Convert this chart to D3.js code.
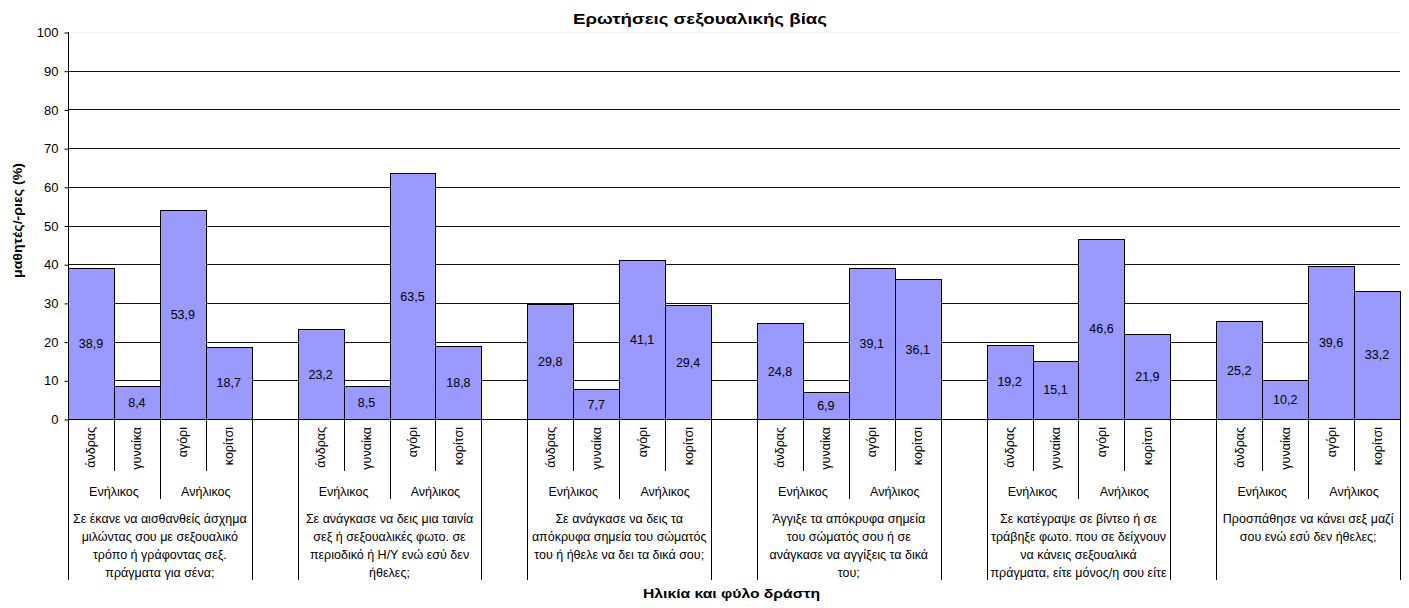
<!DOCTYPE html>
<html><head><meta charset="utf-8">
<script src="https://cdn.jsdelivr.net/npm/d3@7"></script>
<style>body{margin:0;background:#fff}svg{display:block;font-family:"Liberation Sans",Arial,sans-serif}</style>
</head><body><svg id="c" width="1409" height="608"></svg>
<script>
const chartTitle = "Ερωτήσεις σεξουαλικής βίας";
const yTitle = "μαθητές/-ριες (%)";
const xTitle = "Ηλικία και φύλο δράστη";
const questions = [
  ["Σε έκανε να αισθανθείς άσχημα","μιλώντας σου με σεξουαλικό","τρόπο ή γράφοντας σεξ.","πράγματα για σένα;"],
  ["Σε ανάγκασε να δεις μια ταινία","σεξ ή σεξουαλικές φωτο. σε","περιοδικό ή Η/Υ ενώ εσύ δεν","ήθελες;"],
  ["Σε ανάγκασε να δεις τα","απόκρυφα σημεία του σώματός","του ή ήθελε να δει τα δικά σου;"],
  ["Άγγιξε τα απόκρυφα σημεία","του σώματός σου ή σε","ανάγκασε να αγγίξεις τα δικά","του;"],
  ["Σε κατέγραψε σε βίντεο ή σε","τράβηξε φωτο. που σε δείχνουν","να κάνεις σεξουαλικά","πράγματα, είτε μόνος/η σου είτε"],
  ["Προσπάθησε να κάνει σεξ μαζί","σου ενώ εσύ δεν ήθελες;"]
];
const ageGroups = ["Ενήλικος","Ανήλικος"];
const perpetrators = ["άνδρας","γυναίκα","αγόρι","κορίτσι"];
const values = [
  [38.9, 8.4, 53.9, 18.7],
  [23.2, 8.5, 63.5, 18.8],
  [29.8, 7.7, 41.1, 29.4],
  [24.8, 6.9, 39.1, 36.1],
  [19.2, 15.1, 46.6, 21.9],
  [25.2, 10.2, 39.6, 33.2]
];
const yTicks = [0,10,20,30,40,50,60,70,80,90,100];

const svg = d3.select("#c");
const L = 68, R = 1400, T = 32, B = 419;

// slots: 4 bars per question with one blank slot between questions
const slots = [];
questions.forEach((q, qi) => {
  perpetrators.forEach((p, pi) => slots.push(`q${qi}p${pi}`));
  if (qi < questions.length - 1) slots.push(`gap${qi}`);
});
const x = d3.scaleBand().domain(slots).range([L, R]).padding(0);
const y = d3.scaleLinear().domain([0, 100]).range([B, T]);
const bw = x.bandwidth();

// gridlines
svg.append("g").selectAll("line").data(yTicks.filter(t => t > 0)).join("line")
  .attr("x1", L).attr("x2", R)
  .attr("y1", d => Math.round(y(d)) + 0.5).attr("y2", d => Math.round(y(d)) + 0.5)
  .attr("stroke", d => d === 100 ? "#f0f0f0" : "#111").attr("stroke-width", 1);

// bars
const barData = [];
values.forEach((row, qi) => row.forEach((v, pi) => barData.push({qi, pi, v, key: `q${qi}p${pi}`})));
svg.append("g").selectAll("rect").data(barData).join("rect")
  .attr("x", d => Math.round(x(d.key)) + 0.5)
  .attr("y", d => Math.round(y(d.v)) + 0.5)
  .attr("width", d => Math.round(x(d.key) + bw) - Math.round(x(d.key)))
  .attr("height", d => Math.round(y(0)) - Math.round(y(d.v)))
  .attr("fill", "#9999FF").attr("stroke", "#000").attr("stroke-width", 1);

// value labels
svg.append("g").selectAll("text").data(barData).join("text")
  .attr("x", d => x(d.key) + bw / 2)
  .attr("y", d => (y(d.v) + y(0)) / 2 + 4.5)
  .attr("text-anchor", "middle").attr("font-size", 12.5).attr("fill", "#000")
  .text(d => d.v.toFixed(1).replace(".", ","));

// y axis
const yAxis = d3.axisLeft(y).tickValues(yTicks).tickSize(4).tickPadding(6).tickFormat(d3.format("d"));
const ga = svg.append("g").attr("transform", `translate(${L + 0.5},0.5)`).call(yAxis);
ga.select(".domain").remove();
ga.selectAll(".tick text").attr("font-size", 13).attr("font-family", "Liberation Sans, Arial, sans-serif").attr("fill", "#000");
ga.selectAll(".tick line").attr("stroke", "#000");
svg.append("line").attr("x1", L + 0.5).attr("x2", L + 0.5).attr("y1", T).attr("y2", 580).attr("stroke", "#000");
// x axis baseline
svg.append("line").attr("x1", L).attr("x2", R).attr("y1", Math.round(B) + 0.5).attr("y2", Math.round(B) + 0.5).attr("stroke", "#000");

// category separators
const sep = [];
questions.forEach((q, qi) => {
  const x0 = x(`q${qi}p0`), x3 = x(`q${qi}p3`) + bw;
  sep.push({xp: x0, y2: 580});
  sep.push({xp: x3, y2: 580});
  sep.push({xp: x(`q${qi}p1`), y2: 471});
  sep.push({xp: x(`q${qi}p3`), y2: 471});
  sep.push({xp: x(`q${qi}p2`), y2: 499});
});
svg.append("g").selectAll("line").data(sep).join("line")
  .attr("x1", d => Math.round(d.xp) + 0.5).attr("x2", d => Math.round(d.xp) + 0.5)
  .attr("y1", B).attr("y2", d => d.y2).attr("stroke", "#000");

// level 1 labels (rotated)
const lvl1 = [];
questions.forEach((q, qi) => perpetrators.forEach((p, pi) => lvl1.push({key: `q${qi}p${pi}`, p})));
svg.append("g").selectAll("text").data(lvl1).join("text")
  .attr("transform", d => `translate(${x(d.key) + bw / 2 + 4.5},${427}) rotate(-90)`)
  .attr("text-anchor", "end").attr("font-size", 12.5).text(d => d.p);

// level 2 labels
const lvl2 = [];
questions.forEach((q, qi) => ageGroups.forEach((a, ai) => lvl2.push({cx: x(`q${qi}p${ai * 2}`) + bw, a})));
svg.append("g").selectAll("text").data(lvl2).join("text")
  .attr("x", d => d.cx).attr("y", 495.5).attr("text-anchor", "middle").attr("font-size", 12.5).text(d => d.a);

// level 3 labels
const g3 = svg.append("g");
questions.forEach((lines, qi) => {
  const cx = (x(`q${qi}p0`) + x(`q${qi}p3`) + bw) / 2;
  lines.forEach((ln, li) => {
    g3.append("text").attr("x", cx).attr("y", 522.5 + li * 18).attr("text-anchor", "middle")
      .attr("font-size", 12.5).text(ln);
  });
});

// titles
svg.append("text").attr("x", 700).attr("y", 23.5).attr("text-anchor", "middle")
  .attr("font-size", 15).attr("font-weight", "bold")
  .attr("textLength", 254).attr("lengthAdjust", "spacingAndGlyphs").text(chartTitle);
svg.append("text").attr("x", 731.5).attr("y", 597.5).attr("text-anchor", "middle")
  .attr("font-size", 13.5).attr("font-weight", "bold")
  .attr("textLength", 177).attr("lengthAdjust", "spacingAndGlyphs").text(xTitle);
svg.append("text").attr("transform", `translate(22,220.5) rotate(-90)`).attr("text-anchor", "middle")
  .attr("font-size", 13).attr("font-weight", "bold")
  .attr("textLength", 115).attr("lengthAdjust", "spacingAndGlyphs").text(yTitle);
</script></body></html>
